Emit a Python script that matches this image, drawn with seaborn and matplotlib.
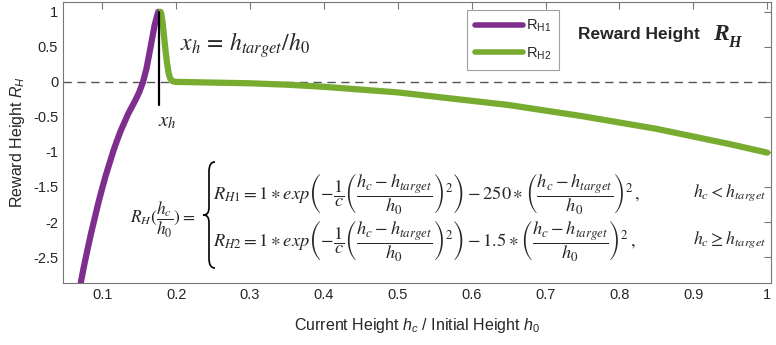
import numpy as np
import pandas as pd
import matplotlib
matplotlib.use("Agg")
import matplotlib.pyplot as plt
import seaborn as sns
from matplotlib.ticker import FormatStrFormatter
from matplotlib.path import Path
from matplotlib.patches import PathPatch

# ---- data ----
x_h1 = [0.071, 0.075, 0.080, 0.085, 0.090, 0.095, 0.100, 0.105, 0.110, 0.115,
        0.120, 0.125, 0.130, 0.135, 0.140, 0.145, 0.150, 0.155, 0.160, 0.165,
        0.168, 0.171, 0.174, 0.176]
y_h1 = [-2.87, -2.65, -2.40, -2.16, -1.94, -1.72, -1.52, -1.33, -1.16, -0.99,
        -0.84, -0.70, -0.58, -0.46, -0.36, -0.26, -0.15, -0.01, 0.19, 0.47,
        0.64, 0.81, 0.93, 1.00]

x_h2 = [0.179, 0.180, 0.182, 0.184, 0.186, 0.188, 0.190, 0.192, 0.195, 0.200,
        0.25, 0.30, 0.35, 0.40, 0.45, 0.50, 0.55, 0.60, 0.65, 0.70, 0.75,
        0.80, 0.85, 0.90, 0.95, 1.00]
y_h2 = [1.00, 0.97, 0.83, 0.62, 0.42, 0.25, 0.12, 0.05, 0.01, 0.00,
        -0.01, -0.02, -0.04, -0.07, -0.11, -0.15, -0.21, -0.27, -0.33, -0.41, -0.49,
        -0.58, -0.67, -0.78, -0.89, -1.01]

series_names = ["$\\mathregular{R_{H1}}$", "$\\mathregular{R_{H2}}$"]
series_colors = ["#7E2F8E", "#77AC30"]
x_target = 0.1765
x_ticks = [0.1, 0.2, 0.3, 0.4, 0.5, 0.6, 0.7, 0.8, 0.9, 1.0]
y_ticks = [-2.5, -2, -1.5, -1, -0.5, 0, 0.5, 1]

df = pd.concat([
    pd.DataFrame({"x": x_h1, "y": y_h1, "series": series_names[0]}),
    pd.DataFrame({"x": x_h2, "y": y_h2, "series": series_names[1]}),
], ignore_index=True)

sns.set_theme(style="white")
plt.rcParams["font.family"] = ["Liberation Sans", "DejaVu Sans"]
plt.rcParams["axes.unicode_minus"] = False
plt.rcParams["mathtext.fontset"] = "custom"
plt.rcParams["mathtext.rm"] = "Liberation Sans"
plt.rcParams["mathtext.it"] = "Liberation Sans:italic"
plt.rcParams["mathtext.bf"] = "Liberation Sans:bold"

W, H = 776, 345
fig = plt.figure(figsize=(W / 100, H / 100), dpi=100)
ax = fig.add_axes([63/W, 1-283/H, (771-63)/W, (283-2)/H])

ax.axhline(0, color="#555555", lw=1.0, ls=(0, (6, 4)), zorder=1)

sns.lineplot(data=df, x="x", y="y", hue="series", palette=series_colors,
             linewidth=4.5, sort=False, estimator=None, ax=ax, zorder=3)

ax.plot([x_target, x_target], [1.0, -0.33], color="black", lw=1.6, zorder=4)

ax.set_xlim(0.047, 1.005)
ax.set_ylim(-2.87, 1.14)
ax.set_xticks(x_ticks)
ax.set_yticks(y_ticks)
ax.xaxis.set_major_formatter(FormatStrFormatter("%g"))
ax.yaxis.set_major_formatter(FormatStrFormatter("%g"))
ax.tick_params(direction="in", length=5, width=0.8, color="#777777",
               top=True, right=True, labelsize=10.5, labelcolor="#262626")
for s in ax.spines.values():
    s.set_color("#777777")
    s.set_linewidth(0.8)

ax.set_xlabel("Current Height $\\it{h_c}$ / Initial Height $\\it{h}_0$", fontsize=11.5,
              color="#262626", labelpad=10)
ax.set_ylabel("Reward Height $\\it{R_H}$", fontsize=11.5, color="#262626", labelpad=4)

leg = ax.legend(loc="upper left", bbox_to_anchor=(0.5706, 0.9715), borderaxespad=0,
                fontsize=10.5, handlelength=3.3, frameon=True, fancybox=False,
                borderpad=0.55, labelspacing=0.75, handletextpad=0.2)
leg.get_frame().set_edgecolor("#888888")
leg.get_frame().set_linewidth(0.8)
for line in leg.get_lines():
    line.set_linewidth(4.0)

# annotations
ax.text(0.1877, -0.57, "$x_h$", fontsize=15, math_fontfamily="stix", ha="center",
        va="center")
ax.text(0.2053, 0.53, "$x_h\\,=\\,h_{target}/h_0$", fontsize=17, math_fontfamily="stix",
        ha="left", va="center")
ax.text(0.744, 0.67, "Reward Height", fontsize=12.5, fontweight="bold", ha="left",
        va="center")
ax.text(0.926, 0.68, "R", fontsize=17, family="Liberation Serif", fontweight="bold",
        style="italic", ha="left", va="center")
ax.text(0.947, 0.55, "H", fontsize=11.5, family="Liberation Serif", fontweight="bold",
        style="italic", ha="left", va="center")

ax.text(0.226, -1.97, "$R_H(\\dfrac{h_c}{h_0})=$", fontsize=12.5, math_fontfamily="stix",
        ha="right", va="center")

# tall curly brace (decoration), in figure pixel coordinates
def P(px, py):
    return (px / W, (H - py) / H)

verts = [P(215, 162), P(211, 162), P(209, 165), P(209, 172),
         P(209, 207),
         P(209, 213), P(207, 215), P(203, 215),
         P(207, 215), P(209, 217), P(209, 223),
         P(209, 258),
         P(209, 265), P(211, 268), P(215, 268)]
codes = [Path.MOVETO, Path.CURVE4, Path.CURVE4, Path.CURVE4,
         Path.LINETO,
         Path.CURVE4, Path.CURVE4, Path.CURVE4,
         Path.CURVE4, Path.CURVE4, Path.CURVE4,
         Path.LINETO,
         Path.CURVE4, Path.CURVE4, Path.CURVE4]
fig.add_artist(PathPatch(Path(verts, codes), transform=fig.transFigure,
                         facecolor="none", edgecolor="black", lw=1.2))

eq1 = ("$R_{H1}=1\\ast exp\\left(-\\dfrac{1}{c}\\left(\\dfrac{h_c-h_{target}}{h_0}\\right)^2\\right)"
       "-250\\ast\\left(\\dfrac{h_c-h_{target}}{h_0}\\right)^2\\,,$")
eq2 = ("$R_{H2}=1\\ast exp\\left(-\\dfrac{1}{c}\\left(\\dfrac{h_c-h_{target}}{h_0}\\right)^2\\right)"
       "-1.5\\ast\\left(\\dfrac{h_c-h_{target}}{h_0}\\right)^2\\,,$")
ax.text(0.250, -1.586, eq1, fontsize=13.2, math_fontfamily="stix", ha="left", va="center")
ax.text(0.250, -2.257, eq2, fontsize=13.2, math_fontfamily="stix", ha="left", va="center")
ax.text(0.999, -1.586, "$h_c<h_{target}$", fontsize=12.8, math_fontfamily="stix",
        ha="right", va="center")
ax.text(0.999, -2.257, "$h_c\\geq h_{target}$", fontsize=12.8, math_fontfamily="stix",
        ha="right", va="center")

fig.savefig("out.png", dpi=100)
